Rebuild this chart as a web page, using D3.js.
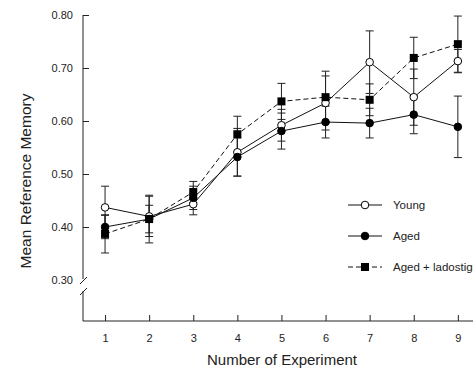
<!DOCTYPE html>
<html>
<head>
<meta charset="utf-8">
<script src="https://cdn.jsdelivr.net/npm/d3@7"></script>
<style>
  body { margin: 0; background: #fff; }
  text { font-family: "Liberation Sans", Arial, sans-serif; fill: #222; }
</style>
</head>
<body>
<div id="chart"></div>
<script>
// experiments 1..9
var experiments = [1, 2, 3, 4, 5, 6, 7, 8, 9];

var youngMean = [0.437, 0.420, 0.443, 0.541, 0.592, 0.634, 0.711, 0.645, 0.713];
var youngErr  = [0.040, 0.038, 0.020, 0.045, 0.030, 0.051, 0.059, 0.053, 0.022];

var agedMean = [0.400, 0.415, 0.455, 0.532, 0.581, 0.598, 0.596, 0.612, 0.589];
var agedErr  = [0.022, 0.026, 0.022, 0.036, 0.034, 0.030, 0.028, 0.036, 0.058];

var ladoMean = [0.387, 0.415, 0.466, 0.575, 0.637, 0.645, 0.640, 0.719, 0.745];
var ladoErr  = [0.036, 0.045, 0.020, 0.034, 0.034, 0.049, 0.030, 0.039, 0.053];

var yTicks = [0.30, 0.40, 0.50, 0.60, 0.70, 0.80];
var seriesNames = ["Young", "Aged", "Aged + ladostigil"];

var width = 473, height = 370;
var axisX = 83, axisY = 321;

var svg = d3.select("#chart")
  .append("svg")
    .attr("width", width)
    .attr("height", height);

var x = d3.scaleLinear().domain([0.5, 9.5]).range([axisX, axisX + 9 * 44.1]);
var y = d3.scaleLinear().domain([0.3, 0.8]).range([280, 15]);

// y axis (ticks inward, line broken near the bottom)
var yAxis = d3.axisLeft(y)
  .tickValues(yTicks)
  .tickSize(-6)
  .tickPadding(10)
  .tickFormat(d3.format(".2f"));

var gy = svg.append("g")
  .attr("transform", "translate(" + axisX + ",0)")
  .call(yAxis);
gy.select(".domain").remove();
gy.selectAll("text").style("font-size", "11px");
gy.selectAll(".tick line").attr("stroke", "#222")
  .filter(function(d){ return d === 0.30 }).remove();

svg.append("line")
  .attr("x1", axisX).attr("x2", axisX)
  .attr("y1", y(0.8)).attr("y2", 279)
  .attr("stroke", "#222");
svg.append("line")
  .attr("x1", axisX).attr("x2", axisX)
  .attr("y1", 291).attr("y2", axisY)
  .attr("stroke", "#222");
// break marks
[281, 292].forEach(function(by){
  svg.append("line")
    .attr("x1", axisX - 3).attr("y1", by + 3)
    .attr("x2", axisX + 4).attr("y2", by - 4)
    .attr("stroke", "#222");
});

// x axis
var xAxis = d3.axisBottom(x)
  .tickValues(experiments)
  .tickSize(-6)
  .tickPadding(13)
  .tickFormat(d3.format("d"));

var gx = svg.append("g")
  .attr("transform", "translate(0," + axisY + ")")
  .call(xAxis);
gx.select(".domain").remove();
gx.selectAll("text").style("font-size", "11px");
gx.selectAll(".tick line").attr("stroke", "#222");
svg.append("line")
  .attr("x1", axisX).attr("x2", width)
  .attr("y1", axisY).attr("y2", axisY)
  .attr("stroke", "#222");

// axis titles
svg.append("text")
  .attr("transform", "translate(31," + 181 + ") rotate(-90)")
  .attr("text-anchor", "middle")
  .style("font-size", "15.5px")
  .text("Mean Reference Memory");

svg.append("text")
  .attr("x", 282).attr("y", 365)
  .attr("text-anchor", "middle")
  .style("font-size", "15px")
  .text("Number of Experiment");

var series = [
  {name: seriesNames[0], mean: youngMean, err: youngErr, marker: "open", dash: null},
  {name: seriesNames[1], mean: agedMean, err: agedErr, marker: "filled", dash: null},
  {name: seriesNames[2], mean: ladoMean, err: ladoErr, marker: "square", dash: "5,3"}
];

var line = d3.line()
  .x(function(d){ return x(d.x) })
  .y(function(d){ return y(d.y) });

function drawMarker(g, kind, cx, cy) {
  if (kind === "square") {
    g.append("rect")
      .attr("x", cx - 4).attr("y", cy - 4)
      .attr("width", 8).attr("height", 8)
      .attr("fill", "#000");
  } else {
    g.append("circle")
      .attr("cx", cx).attr("cy", cy).attr("r", 3.8)
      .attr("fill", kind === "open" ? "#fff" : "#000")
      .attr("stroke", "#000").attr("stroke-width", 1);
  }
}

// error bars first, then lines, then markers
series.forEach(function(s){
  var pts = experiments.map(function(e, i){ return {x: e, y: s.mean[i], e: s.err[i]} });
  var eg = svg.append("g");
  pts.forEach(function(p){
    var px = x(p.x);
    eg.append("line")
      .attr("x1", px).attr("x2", px)
      .attr("y1", y(p.y + p.e)).attr("y2", y(p.y - p.e))
      .attr("stroke", "#222");
    [p.y + p.e, p.y - p.e].forEach(function(v){
      eg.append("line")
        .attr("x1", px - 4).attr("x2", px + 4)
        .attr("y1", y(v)).attr("y2", y(v))
        .attr("stroke", "#222");
    });
  });
  s.pts = pts;
});

series.forEach(function(s){
  svg.append("path")
    .datum(s.pts)
    .attr("d", line)
    .attr("fill", "none")
    .attr("stroke", "#111")
    .attr("stroke-width", 1)
    .attr("stroke-dasharray", s.dash);
});

series.forEach(function(s){
  var mg = svg.append("g");
  s.pts.forEach(function(p){ drawMarker(mg, s.marker, x(p.x), y(p.y)) });
});

// legend
var legendY = [205, 236, 267];
series.forEach(function(s, i){
  var lg = svg.append("g");
  lg.append("line")
    .attr("x1", 348).attr("x2", 382)
    .attr("y1", legendY[i]).attr("y2", legendY[i])
    .attr("stroke", "#111")
    .attr("stroke-dasharray", s.dash);
  drawMarker(lg, s.marker, 365, legendY[i]);
  lg.append("text")
    .attr("x", 393).attr("y", legendY[i] + 4)
    .style("font-size", "11.5px")
    .text(s.name);
});
</script>
</body>
</html>
